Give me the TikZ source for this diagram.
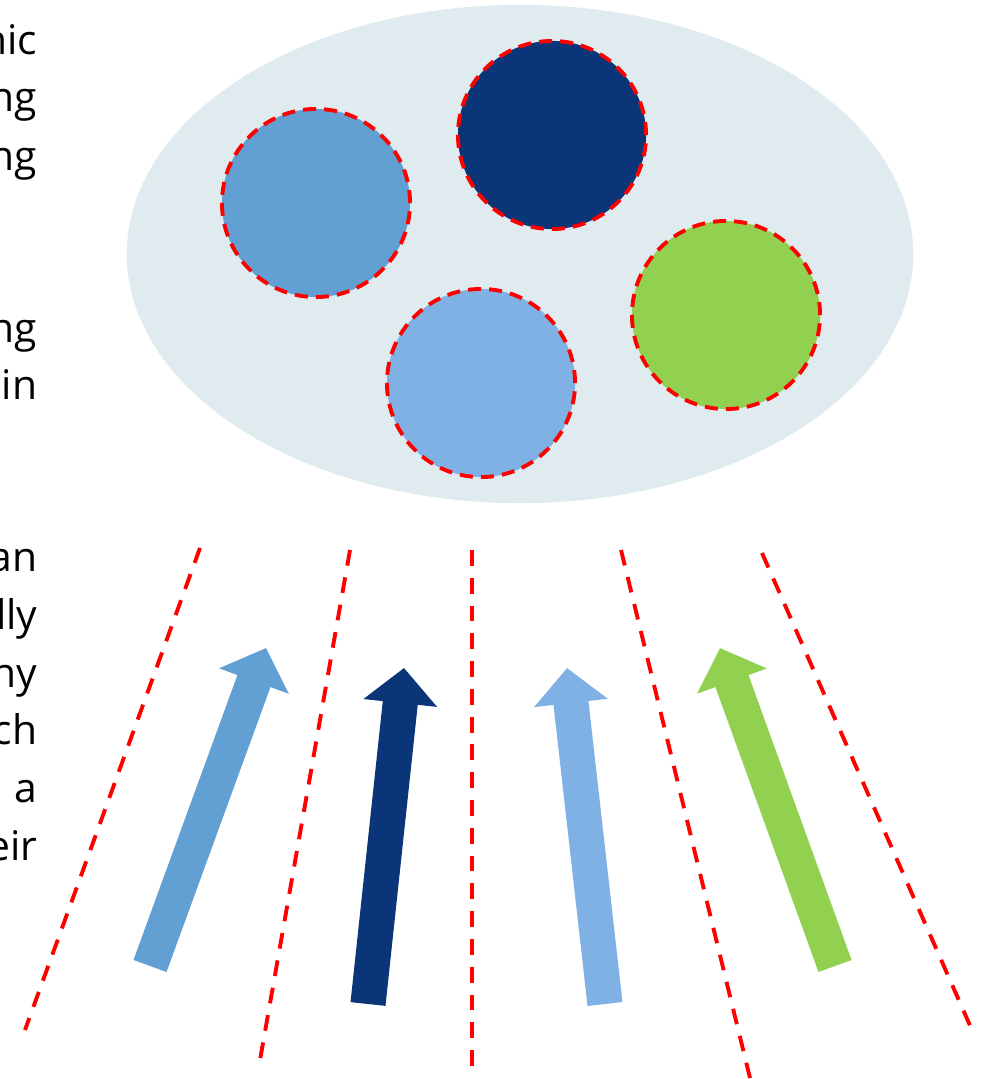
\documentclass[tikz,border=0pt]{standalone}
\usepackage{fontspec}
\setmainfont{Open Sans}
\usepackage{xcolor}
\usetikzlibrary{shapes.geometric,arrows.meta,positioning}

\definecolor{cellbg}{HTML}{DFEBEE}
\definecolor{midblue}{HTML}{629FD3}
\definecolor{navy}{HTML}{0A3679}
\definecolor{liteblue}{HTML}{7FB1E4}
\definecolor{leafgreen}{HTML}{92D050}

\tikzset{
    ball/.style={circle, minimum size=1.88cm, inner sep=0pt, draw=red, line width=1.1pt, dash pattern=on 3.7pt off 2.3pt},
    ray/.style={draw=red, line width=1.1pt, dash pattern=on 4.5pt off 3.4pt},
    beam/.style={line width=10pt, -{Triangle[width=20.5pt, length=10pt]}},
    word/.style={anchor=base east, font=\fontsize{11.6}{14}\selectfont, inner sep=0pt}
}

\begin{document}
\begin{tikzpicture}[x=0.01cm, y=-0.01cm]
    \useasboundingbox (0,0) rectangle (990,1079);

    % text cut at the left edge
    \foreach \t/\yy [count=\i] in {nic/55, ng/112, ng/170, ng/342, in/399, an/571, lly/629, ny/687, ch/744, a/802, eir/860}
        \node[word] (w\i) at (38,\yy) {\t};

    % the cell and its particles
    \node[ellipse, fill=cellbg, minimum width=7.86cm, minimum height=4.98cm, inner sep=0pt] (cell) at (520,254) {};
    \node[ball, fill=midblue] (p1) at (316,203) {};
    \node[ball, fill=navy] (p2) at (552,135) {};
    \node[ball, fill=leafgreen] (p3) at (726,315) {};
    \node[ball, fill=liteblue] (p4) at (481,383) {};

    % dashed rays
    \coordinate (r1a) at (200,548); \coordinate (r1b) at (25,1030);
    \coordinate (r2a) at (350,550); \coordinate (r2b) at (260,1060);
    \coordinate (r3a) at (472,550); \coordinate (r3b) at (472,1070);
    \coordinate (r4a) at (621,550); \coordinate (r4b) at (750,1078);
    \coordinate (r5a) at (762,553); \coordinate (r5b) at (972,1030);
    \foreach \i in {1,...,5}
        \draw[ray] (r\i a) -- (r\i b);

    % arrows
    \coordinate (a1s) at (150,966); \coordinate (a1t) at (266,648);
    \coordinate (a2s) at (368,1004); \coordinate (a2t) at (404,668);
    \coordinate (a3s) at (605,1004); \coordinate (a3t) at (567,668);
    \coordinate (a4s) at (835,966); \coordinate (a4t) at (720,648);
    \draw[beam, midblue] (a1s) -- (a1t);
    \draw[beam, navy] (a2s) -- (a2t);
    \draw[beam, liteblue] (a3s) -- (a3t);
    \draw[beam, leafgreen] (a4s) -- (a4t);
\end{tikzpicture}
\end{document}
